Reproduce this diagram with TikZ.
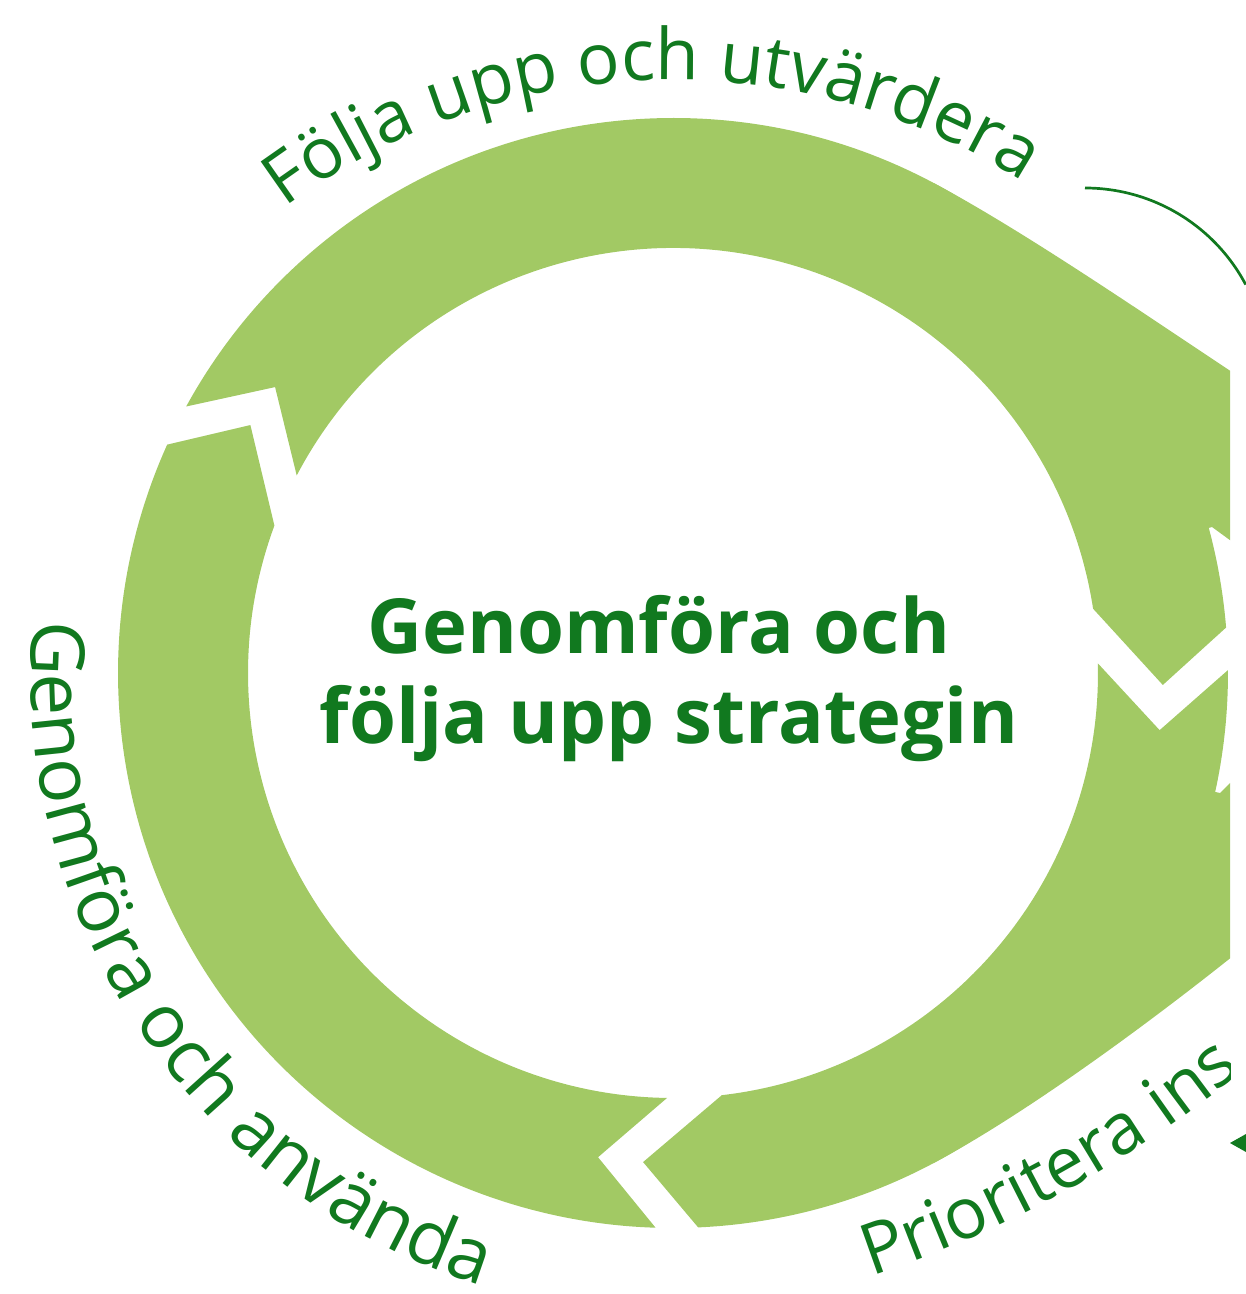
\documentclass[tikz,border=0pt]{standalone}
\usepackage{fontspec}
\setmainfont{Open Sans}
\usetikzlibrary{decorations.text}
\definecolor{ringgreen}{RGB}{162,201,100}
\definecolor{txtgreen}{RGB}{17,121,31}
\begin{document}
\begin{tikzpicture}[x=1pt,y=1pt,
  seg/.style={fill=ringgreen,draw=none},
  arctext/.style={decorate,decoration={text along path,text color=txtgreen,text align=#1}},
  thinline/.style={draw=txtgreen,line width=2.7}]
\useasboundingbox (-673,-621) rectangle (573,673);
\begin{scope}
\clip (-673,-621) rectangle (557,673);
% top segment: Följa upp och utvärdera
\path[seg] (151.3:555) -- (144.3:490) -- (152.3:425)
  arc[start angle=152.3,end angle=8.7,radius=425]
  -- (-1.4:490) -- (4.7:555)
  arc[start angle=4.7,end angle=151.3,radius=555] -- cycle;
% bottom-right segment
\path[seg] (0.3:555) -- (-6.7:490) -- (1.3:425)
  arc[start angle=1.3,end angle=-83.4,radius=425]
  -- (-93.5:490) -- (-87.4:555)
  arc[start angle=-87.4,end angle=0.3,radius=555] -- cycle;
% bottom-left segment
\path[seg] (268.2:555) -- (261.2:490) -- (269.2:425)
  arc[start angle=269.2,end angle=159.7,radius=425]
  -- (149.6:490) -- (155.7:555)
  arc[start angle=155.7,end angle=268.2,radius=555] -- cycle;
% flares on the right
\path[seg] (62:555) .. controls (349,443) and (470,360) .. (565,297)
  -- (565,127) -- (539,146) -- (15:500)
  arc[start angle=15,end angle=62,radius=500] -- cycle;
\path[seg] (-62:555) .. controls (349,-443) and (470,-355) .. (565,-279)
  -- (565,-102) -- (547,-120) -- (-12.4:500)
  arc[start angle=-12.4,end angle=-62,radius=500] -- cycle;
% curved labels
\begin{scope}[shift={(0,-60)}]
\path[arctext=center,decoration={text={|\fontsize{71}{75}\selectfont|Följa upp och utvärdera}}]
  (182.05:653) arc[start angle=182.05,end angle=2.05,radius=653];
\end{scope}
\path[arctext=center,decoration={text={|\fontsize{75}{80}\selectfont|Genomföra och använda}}]
  (124:642) arc[start angle=124,end angle=304,radius=642];
\begin{scope}[shift={(-172,502)}]
\path[arctext=left,decoration={text={|\fontsize{71}{75}\selectfont|Prioritera ins}}]
  (-71.5:1166) arc[start angle=-71.5,end angle=-30,radius=1166];
\end{scope}
\end{scope}
% centre title
\node[text=txtgreen,font=\fontsize{76}{90}\selectfont\bfseries,align=center] (title) at (-4,-6)
  {Genomföra och\hspace*{0.27em}\\följa upp strategin};
% partial connectors at the right edge
\coordinate (arcstart) at (412,485);
\draw[thinline] (arcstart) arc[start angle=90,end angle=28,radius=182];
\coordinate (tipA) at (557,-470);
\fill[txtgreen] (tipA) -- ++(16,9) -- ++(0,-18) -- cycle;
\end{tikzpicture}
\end{document}
